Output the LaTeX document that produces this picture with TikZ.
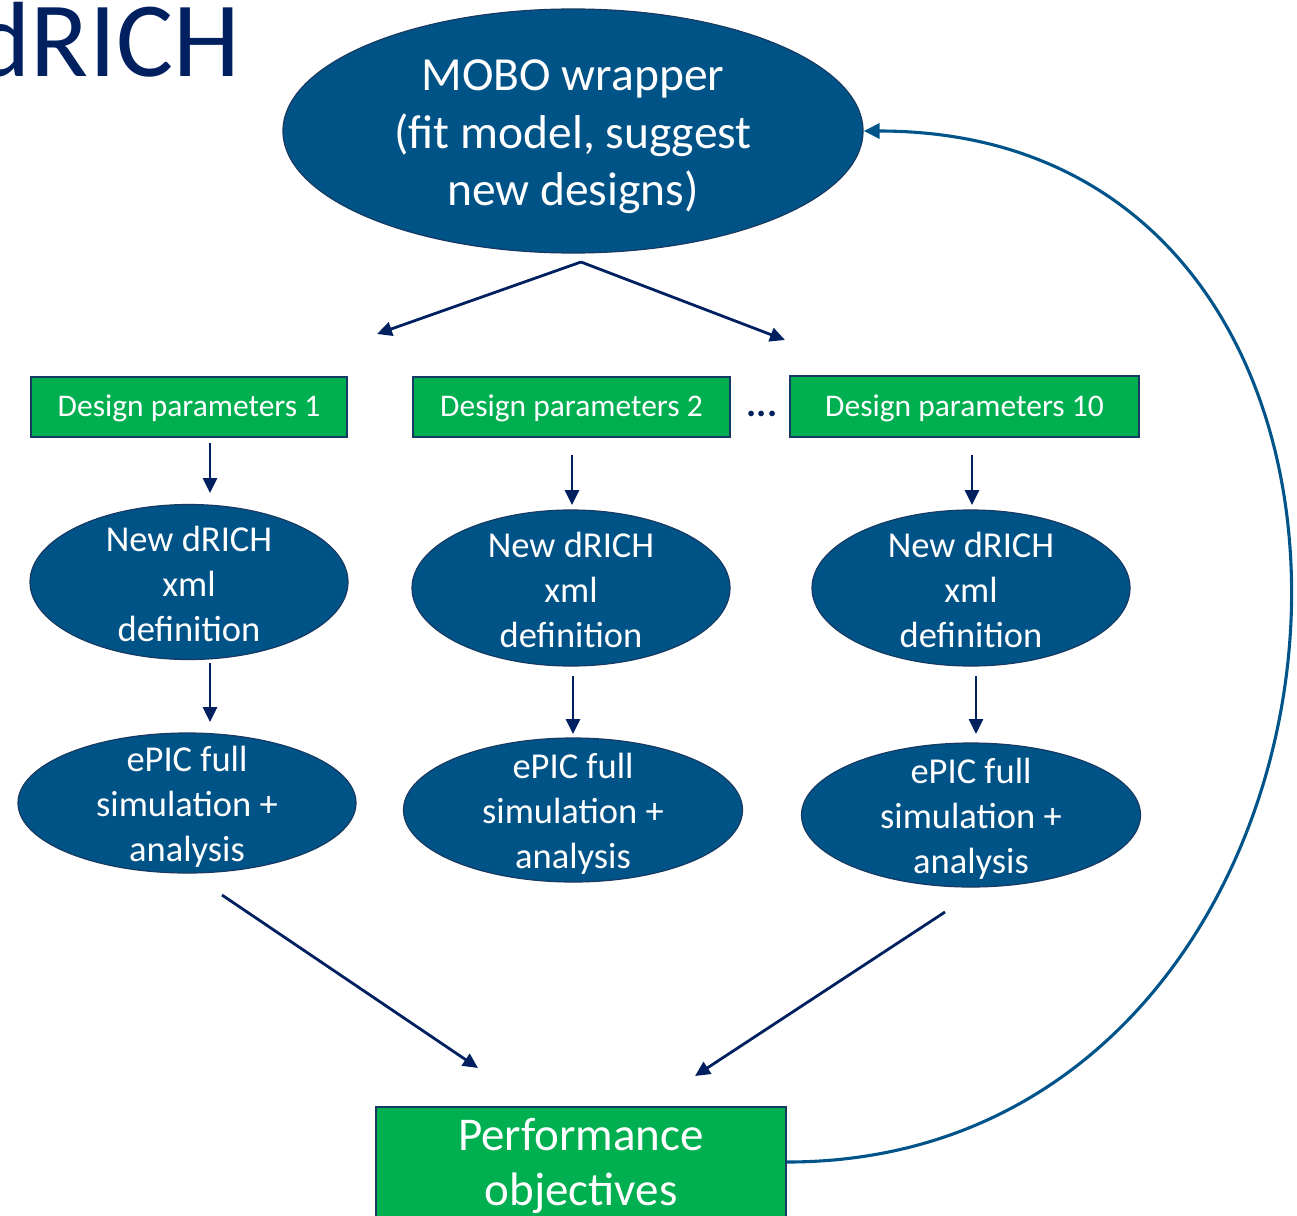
\documentclass[tikz,border=0pt]{standalone}
\usepackage{fontspec}
\setmainfont{Carlito}
\usetikzlibrary{shapes.geometric,arrows.meta}
\definecolor{ellblue}{RGB}{0,83,135}
\definecolor{ellborder}{RGB}{22,58,98}
\definecolor{pgreen}{RGB}{0,176,80}
\definecolor{navy}{RGB}{0,32,96}
\definecolor{curveblue}{RGB}{0,84,138}
\newcommand\firstlift[1]{\rule{0pt}{#1}}
\begin{document}
\begin{tikzpicture}[x=1pt,y=-1pt,
  ell/.style={ellipse, draw=ellborder, line width=1.2pt, fill=ellblue, text=white, align=center, inner xsep=0pt, inner ysep=-20pt},
  greenbox/.style={rectangle, draw=ellborder, line width=2pt, fill=pgreen, text=white, align=center, inner sep=0pt},
  arr/.style={draw=navy, line width=2.8pt, -{Triangle[length=15pt,width=14pt]}},
  loop/.style={draw=curveblue, line width=3.1pt, -{Triangle[length=16pt,width=15pt]}},
  small/.style={font=\fontsize{31.5}{38}\selectfont},
  mid/.style={font=\fontsize{36.5}{45}\selectfont},
  big/.style={font=\fontsize{47.5}{57.5}\selectfont}
]
\useasboundingbox (0,0) rectangle (1297,1215);
\clip (0,0) rectangle (1297,1215);

% title fragment
\node[anchor=base east, inner sep=0pt, text=navy, font=\fontsize{107}{120}\selectfont] (title) at (240,77) {dRICH};

% top ellipse
\node[ell, big, minimum width=580pt, minimum height=244pt] (mobo) at (573,131) {\firstlift{43pt}MOBO wrapper\\(fit model, suggest\\new designs)};

% design parameter boxes
\node[greenbox, small, minimum width=316pt, minimum height=60pt] (d1) at (189,407) {\firstlift{24.5pt}Design parameters 1};
\node[greenbox, small, minimum width=317pt, minimum height=60pt] (d2) at (571.5,407) {\firstlift{24.5pt}Design parameters 2};
\node[greenbox, small, minimum width=349pt, minimum height=61pt] (d3) at (964.5,406.5) {\firstlift{24.5pt}Design parameters 10};
\node[text=navy, font=\fontsize{38}{40}\selectfont\bfseries, inner sep=0pt] (dots) at (762,414) {...};

% xml ellipses
\node[ell, mid, minimum width=318pt, minimum height=155pt] (x1) at (189,582) {\firstlift{29.5pt}New dRICH\\xml\\definition};
\node[ell, mid, minimum width=318pt, minimum height=156pt] (x2) at (571,588) {\firstlift{29.5pt}New dRICH\\xml\\definition};
\node[ell, mid, minimum width=318pt, minimum height=156pt] (x3) at (971,588) {\firstlift{29.5pt}New dRICH\\xml\\definition};

% simulation ellipses
\node[ell, mid, minimum width=338pt, minimum height=140pt] (s1) at (187,803) {\firstlift{33.5pt}ePIC full\\simulation +\\analysis};
\node[ell, mid, minimum width=339pt, minimum height=144pt] (s2) at (573,810) {\firstlift{33.5pt}ePIC full\\simulation +\\analysis};
\node[ell, mid, minimum width=339pt, minimum height=144pt] (s3) at (971,815) {\firstlift{33.5pt}ePIC full\\simulation +\\analysis};

% performance box
\node[greenbox, font=\fontsize{47}{55}\selectfont, minimum width=410pt, minimum height=110pt] (perf) at (581,1162) {\firstlift{40.5pt}Performance\\objectives};

% connector end points
\coordinate (top) at (581,262);
\coordinate (tl) at (377,334);
\coordinate (tr) at (785,340);
\coordinate (a1s) at (210,443); \coordinate (a1e) at (210,493);
\coordinate (a2s) at (572,455); \coordinate (a2e) at (572,505);
\coordinate (a3s) at (972,455); \coordinate (a3e) at (972,505);
\coordinate (b1s) at (210,663); \coordinate (b1e) at (210,722);
\coordinate (b2s) at (573,676); \coordinate (b2e) at (573,734);
\coordinate (b3s) at (976,676); \coordinate (b3e) at (976,734);
\coordinate (c1s) at (222,895); \coordinate (c1e) at (478,1068);
\coordinate (c3s) at (945,912); \coordinate (c3e) at (695,1076);

\draw[arr] (top) -- (tl);
\draw[arr] (top) -- (tr);
\draw[arr] (a1s) -- (a1e);
\draw[arr] (a2s) -- (a2e);
\draw[arr] (a3s) -- (a3e);
\draw[arr] (b1s) -- (b1e);
\draw[arr] (b2s) -- (b2e);
\draw[arr] (b3s) -- (b3e);
\draw[arr] (c1s) -- (c1e);
\draw[arr] (c3s) -- (c3e);

% feedback loop
\draw[loop] (perf.east) .. controls (1402,1162) and (1481,131) .. (mobo.east);
\end{tikzpicture}
\end{document}
